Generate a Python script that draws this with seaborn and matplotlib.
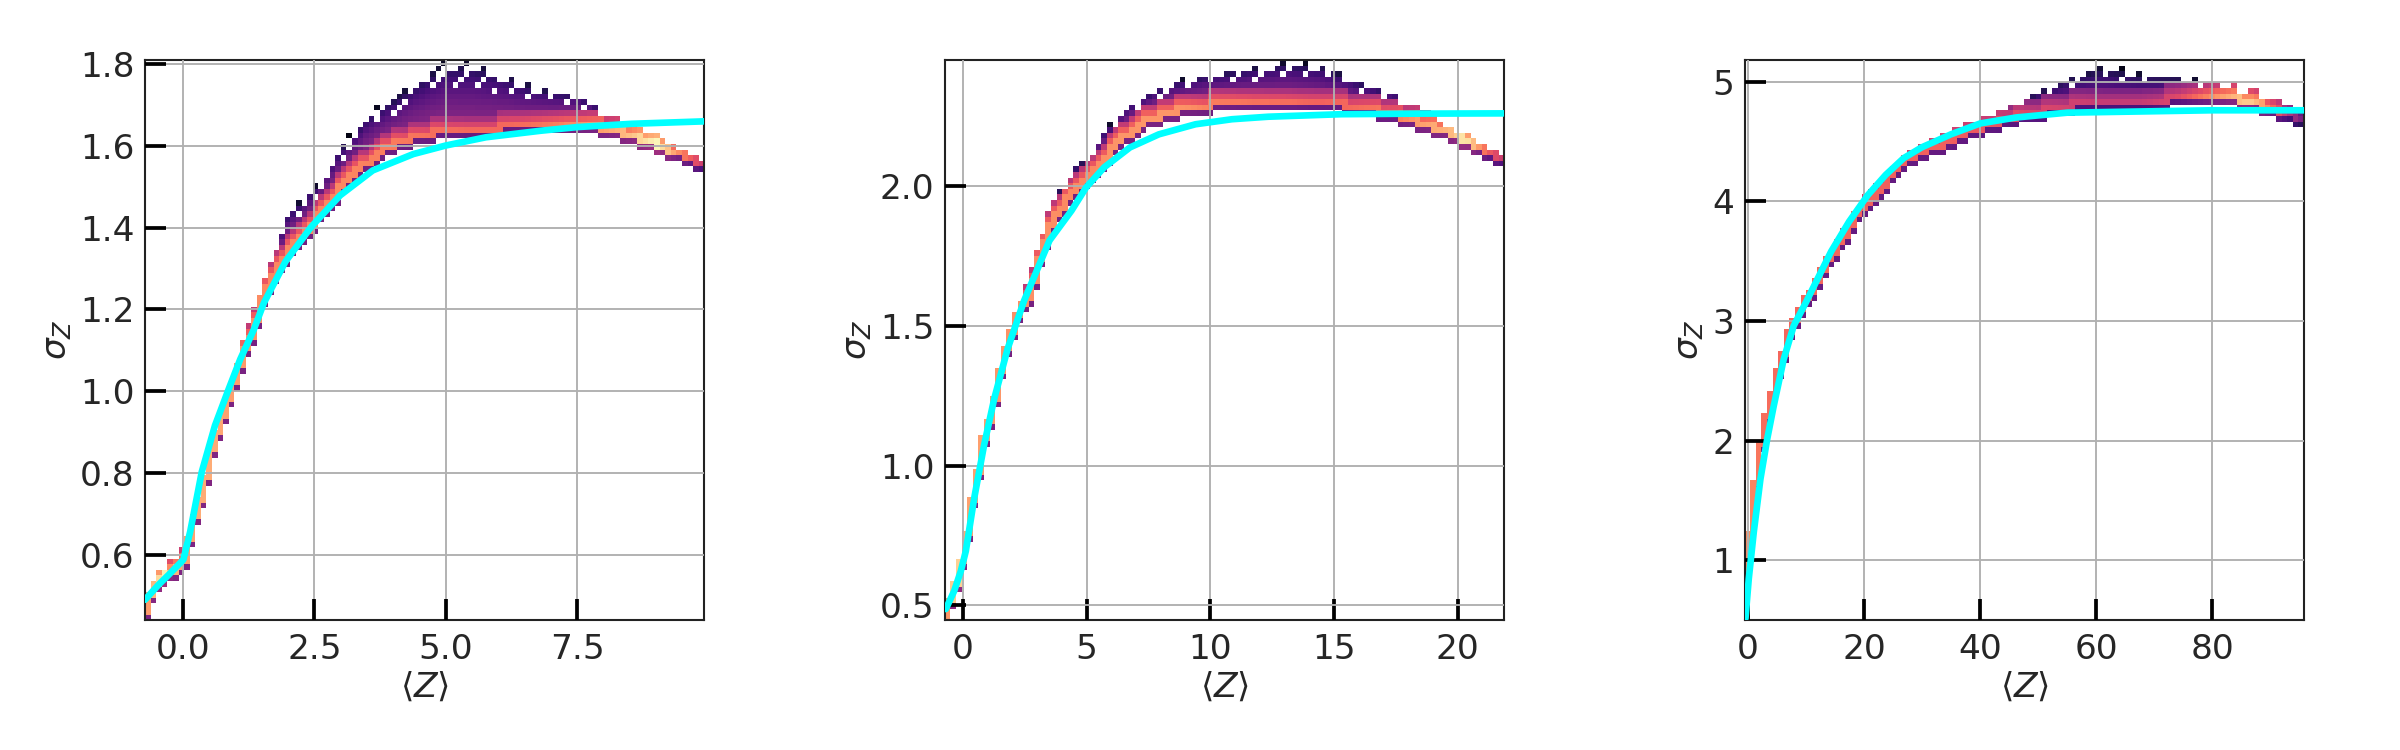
import numpy as np
import pandas as pd
import seaborn as sns
import matplotlib.pyplot as plt
from matplotlib.colors import LogNorm

# ---- panel 1 : ridge of the 2D histogram ----
z_1 = [-0.72, -0.53, -0.37, -0.18, 0.04, 0.14, 0.27, 0.43, 0.55, 0.71, 0.87, 1.03,
       1.22, 1.41, 1.54, 2.0, 2.5, 3.0, 3.5, 4.0, 4.5, 5.0, 5.5, 6.0, 6.5, 7.0,
       7.5, 8.0, 8.5, 9.0, 9.5, 9.91]
sig_core_1 = [0.46, 0.527, 0.543, 0.56, 0.59, 0.64, 0.706, 0.78, 0.85, 0.917, 0.98, 1.038,
              1.11, 1.176, 1.236, 1.345, 1.415, 1.496, 1.56, 1.605, 1.625, 1.637, 1.642, 1.645, 1.65, 1.654,
              1.654, 1.645, 1.625, 1.607, 1.577, 1.556]
sig_top_1 = [0.48, 0.55, 0.57, 0.60, 0.63, 0.67, 0.73, 0.80, 0.87, 0.94, 1.0, 1.07,
             1.16, 1.22, 1.27, 1.44, 1.50, 1.60, 1.68, 1.72, 1.77, 1.81, 1.81, 1.79, 1.76, 1.74,
             1.73, 1.69, 1.67, 1.63, 1.59, 1.565]
count_1 = [200, 400, 900, 350, 250, 250, 300, 300, 300, 280, 250, 250,
           220, 200, 180, 180, 180, 180, 160, 150, 130, 120, 110, 110, 120, 150,
           200, 250, 400, 900, 150, 40]
fit_z_1 = [-0.72, -0.46, -0.27, 0.01, 0.14, 0.36, 0.61, 0.87, 1.09, 1.35, 1.54, 1.95,
           2.44, 2.99, 3.61, 4.38, 5.0, 5.76, 6.8, 7.5, 8.53, 9.91]
fit_sig_1 = [0.49, 0.527, 0.551, 0.588, 0.657, 0.803, 0.916, 1.005, 1.078, 1.151, 1.216, 1.317,
             1.402, 1.479, 1.54, 1.58, 1.601, 1.621, 1.637, 1.646, 1.654, 1.66]

# ---- panel 2 ----
z_2 = [-0.73, -0.28, 0.05, 0.32, 0.59, 0.86, 1.27, 1.6, 1.94, 2.35, 2.62, 3.5, 4.39, 4.98,
       5.71, 6.45, 7.33, 8.2, 9.1, 10.13, 11.6, 13.1, 14.55, 16.0, 17.5, 18.5, 19.7, 20.3,
       21.2, 21.87]
sig_core_2 = [0.46, 0.576, 0.695, 0.837, 0.956, 1.099, 1.217, 1.36, 1.479, 1.574, 1.59, 1.854, 1.973, 2.032,
              2.10, 2.17, 2.23, 2.265, 2.28, 2.295, 2.305, 2.305, 2.30, 2.285, 2.255, 2.23, 2.19, 2.17,
              2.13, 2.10]
sig_top_2 = [0.48, 0.62, 0.74, 0.87, 0.99, 1.13, 1.25, 1.39, 1.51, 1.61, 1.68, 1.93, 2.06, 2.10,
             2.20, 2.28, 2.33, 2.37, 2.39, 2.41, 2.43, 2.45, 2.44, 2.38, 2.34, 2.29, 2.21, 2.19,
             2.14, 2.11]
count_2 = [150, 700, 300, 250, 250, 250, 220, 220, 200, 200, 200, 200, 180, 180,
           200, 220, 220, 220, 200, 150, 130, 120, 100, 120, 150, 250, 350, 800,
           100, 40]
fit_z_2 = [-0.69, -0.35, -0.08, 0.12, 0.46, 0.86, 1.27, 1.81, 2.47, 3.5, 4.39, 4.98, 5.71,
           6.75, 7.92, 9.4, 10.87, 12.34, 15.29, 18.23, 21.87]
fit_sig_2 = [0.487, 0.552, 0.624, 0.695, 0.885, 1.075, 1.241, 1.419, 1.59, 1.806, 1.913, 1.996, 2.068,
             2.139, 2.186, 2.222, 2.24, 2.249, 2.258, 2.26, 2.261]

# ---- panel 3 ----
z_3 = [-0.46, -0.17, 0.4, 1.26, 2.1, 2.98, 4.1, 5.56, 7.0, 8.4, 9.86, 11.2, 14.3, 17.4, 19.9,
       23.7, 26.8, 30.0, 33.7, 37.5, 42.5, 48.7, 55, 61.3, 67.5, 73.8, 80, 86.3, 89.4, 92.5, 95.8]
sig_core_3 = [0.51, 0.875, 1.24, 1.625, 1.93, 2.125, 2.375, 2.65, 2.875, 3.04, 3.17, 3.27, 3.55, 3.77, 3.97,
              4.16, 4.33, 4.41, 4.49, 4.58, 4.66, 4.74, 4.80, 4.84, 4.845, 4.855, 4.88, 4.84, 4.80, 4.74, 4.70]
sig_top_3 = [0.55, 0.95, 1.3, 1.7, 2.0, 2.2, 2.45, 2.72, 2.95, 3.1, 3.24, 3.34, 3.6, 3.85, 4.05,
             4.25, 4.4, 4.48, 4.56, 4.66, 4.74, 4.9, 5.05, 5.15, 5.08, 5.05, 5.0, 4.95, 4.9, 4.82, 4.75]
count_3 = [150, 200, 200, 150, 130, 120, 120, 110, 110, 110, 110, 110, 110, 110, 100,
           100, 100, 100, 100, 90, 80, 60, 50, 40, 40, 60, 200, 500, 200, 40, 10]
fit_z_3 = [-0.46, 0.11, 0.97, 2.12, 3.27, 4.41, 6.13, 7.85, 9.9, 14.3, 17.4, 20.6, 23.7, 26.8,
           29.9, 35, 40, 46.2, 55, 67.5, 80, 95.8]
fit_sig_3 = [0.514, 0.847, 1.236, 1.68, 2.01, 2.29, 2.68, 2.96, 3.15, 3.58, 3.83, 4.05, 4.22, 4.36,
             4.45, 4.56, 4.65, 4.70, 4.74, 4.75, 4.76, 4.76]


def band_table(z, core, top, count, xlim, ylim, nbins=100):
    # expand the read-off ridge into histogram cells (x, y, count)
    xe = np.linspace(xlim[0], xlim[1], nbins + 1)
    ye = np.linspace(ylim[0], ylim[1], nbins + 1)
    yc = 0.5 * (ye[:-1] + ye[1:])
    dy = ye[1] - ye[0]
    logc = np.log10(count)
    rows = []
    for col, (x0, x1) in enumerate(zip(xe[:-1], xe[1:])):
        xm = 0.5 * (x0 + x1)
        c0, c1 = np.interp([x0, x1], z, core)
        lo, hi = min(c0, c1), max(c0, c1)
        t = max(np.interp(xm, z, top), hi)
        p = np.interp(xm, z, logc)
        inside = yc[(yc >= lo - dy / 2) & (yc <= hi + dy / 2)]
        for y in inside:
            rows.append((xm, y, 10 ** p))
        # one dimmer row under the ridge
        if len(inside):
            rows.append((xm, inside[0] - dy, 10 ** (0.45 * p)))
        above = yc[(yc > hi + dy / 2) & (yc <= t)]
        for k, y in enumerate(above):
            f = (y - hi) / (t - hi)
            # thinner, patchy outer fringe of single counts
            if f > 0.85 and (col + k) % 2:
                continue
            if f > 0.6 and (3 * col + k) % 4 == 0:
                continue
            if k == 0:
                e = 0.85
            elif k == 1:
                e = 0.68
            else:
                e = 0.6 * (1 - f) ** 0.5
            rows.append((xm, y, max(10 ** (p * e), 1.0)))
    return pd.DataFrame(rows, columns=["z", "sigma", "n"]), xe, ye


panels = [
    dict(z=z_1, core=sig_core_1, top=sig_top_1, count=count_1, fz=fit_z_1, fs=fit_sig_1,
         xlim=(-0.72, 9.91), ylim=(0.44, 1.81), xt=[0, 2.5, 5.0, 7.5],
         yt=[0.6, 0.8, 1.0, 1.2, 1.4, 1.6, 1.8], xf="{:.1f}", yf="{:.1f}"),
    dict(z=z_2, core=sig_core_2, top=sig_top_2, count=count_2, fz=fit_z_2, fs=fit_sig_2,
         xlim=(-0.73, 21.87), ylim=(0.447, 2.452), xt=[0, 5, 10, 15, 20],
         yt=[0.5, 1.0, 1.5, 2.0], xf="{:.0f}", yf="{:.1f}"),
    dict(z=z_3, core=sig_core_3, top=sig_top_3, count=count_3, fz=fit_z_3, fs=fit_sig_3,
         xlim=(-0.6, 95.8), ylim=(0.5, 5.18), xt=[0, 20, 40, 60, 80],
         yt=[1, 2, 3, 4, 5], xf="{:.0f}", yf="{:.0f}"),
]

sns.set_style("ticks")
plt.rcParams["font.family"] = ["DejaVu Sans"]

fig, axes = plt.subplots(1, 3, figsize=(16, 5), dpi=150)
fig.subplots_adjust(left=0.0604, right=0.96, bottom=0.173, top=0.92, wspace=0.43)

for ax, p in zip(axes, panels):
    cells, xe, ye = band_table(p["z"], p["core"], p["top"], p["count"], p["xlim"], p["ylim"])
    sns.histplot(data=cells, x="z", y="sigma", weights="n", bins=(xe, ye),
                 cmap="magma", ax=ax)
    ax.collections[-1].set_norm(LogNorm(vmin=1, vmax=1000))
    sns.lineplot(x=p["fz"], y=p["fs"], color="cyan", lw=3.2, sort=False, ax=ax, zorder=5)

    ax.set_xlim(*p["xlim"])
    ax.set_ylim(*p["ylim"])
    ax.set_xticks(p["xt"])
    ax.set_xticklabels([p["xf"].format(v) for v in p["xt"]])
    ax.set_yticks(p["yt"])
    ax.set_yticklabels([p["yf"].format(v) for v in p["yt"]])
    ax.set_axisbelow(False)
    ax.grid(True, color="#b0b0b0", lw=0.9)
    ax.tick_params(direction="in", length=10, width=1.8, color="black", labelsize=16.5)
    ax.tick_params(axis="y", pad=5)
    ax.tick_params(axis="x", pad=6)
    for s in ax.spines.values():
        s.set_linewidth(1.0)
        s.set_color("#222222")
    ax.set_xlabel(r"$\langle Z \rangle$", fontsize=16.5, labelpad=2)
    ax.set_ylabel(r"$\sigma_Z$", fontsize=16.5, labelpad=3)

fig.savefig("out.png", dpi=150, facecolor="white")
